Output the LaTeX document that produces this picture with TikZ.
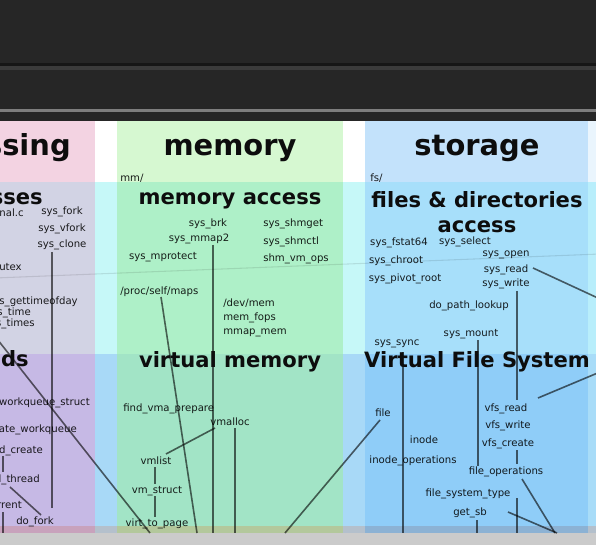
\documentclass[tikz,border=0pt]{standalone}
\usepackage{fontspec}
\setmainfont{DejaVu Sans}
\definecolor{bgdark}{HTML}{262626}
\definecolor{topl1}{HTML}{161616}
\definecolor{topl2}{HTML}{3B3B3B}
\definecolor{topl3}{HTML}{7E7E7E}
\definecolor{pinkH}{HTML}{F3D3E2}
\definecolor{greenH}{HTML}{D6F8D1}
\definecolor{blueH}{HTML}{C3E2FB}
\definecolor{edgeH}{HTML}{EAF5FD}
\definecolor{procA}{HTML}{D2D3E4}
\definecolor{gapA}{HTML}{C6F8F8}
\definecolor{memA}{HTML}{AEF0C8}
\definecolor{stoA}{HTML}{A7DFFA}
\definecolor{edgeA}{HTML}{B8EEFB}
\definecolor{procB}{HTML}{C6B9E5}
\definecolor{gapB}{HTML}{A8D9F7}
\definecolor{memB}{HTML}{A2E4C6}
\definecolor{stoB}{HTML}{8FCDF8}
\definecolor{edgeB}{HTML}{A8DCF8}
\definecolor{procS}{HTML}{C8A2BC}
\definecolor{gapS}{HTML}{B4C0CC}
\definecolor{memS}{HTML}{B3C89C}
\definecolor{stoS}{HTML}{8CB2D4}
\definecolor{botgray}{HTML}{CBCBCB}
\begin{document}
\begin{tikzpicture}[x=0.75pt,y=-0.75pt,
  lbl/.style={font=\fontsize{7.6}{9}\selectfont,inner sep=0pt,text=black,text opacity=0.88,anchor=mid},
  ttl/.style={font=\fontsize{15.8}{19}\selectfont\bfseries,inner sep=0pt,text=black!95,anchor=mid},
  hdr/.style={font=\fontsize{21.7}{26}\selectfont\bfseries,inner sep=0pt,text=black!95,anchor=mid},
  lnk/.style={draw=black,draw opacity=0.6,line width=1.2pt},
  faint/.style={draw=black,draw opacity=0.1,line width=0.8pt}]
\useasboundingbox (0,0) rectangle (596,545);
\clip (0,0) rectangle (596,545);
% top dark window area
\fill[bgdark] (0,0) rectangle (596,121);
\fill[topl1] (0,63) rectangle (596,66);
\fill[topl2] (0,66.5) rectangle (596,70);
\fill[topl3] (0,109) rectangle (596,112);
% header row
\fill[pinkH] (0,121) rectangle (95,182);
\fill[white] (95,121) rectangle (117,182);
\fill[greenH] (117,121) rectangle (343,182);
\fill[white] (343,121) rectangle (365,182);
\fill[blueH] (365,121) rectangle (588,182);
\fill[edgeH] (588,121) rectangle (596,182);
% row 2
\fill[procA] (0,182) rectangle (95,354);
\fill[gapA] (95,182) rectangle (117,354);
\fill[memA] (117,182) rectangle (343,354);
\fill[gapA] (343,182) rectangle (365,354);
\fill[stoA] (365,182) rectangle (588,354);
\fill[edgeA] (588,182) rectangle (596,354);
% row 3
\fill[procB] (0,354) rectangle (95,526);
\fill[gapB] (95,354) rectangle (117,526);
\fill[memB] (117,354) rectangle (343,526);
\fill[gapB] (343,354) rectangle (365,526);
\fill[stoB] (365,354) rectangle (588,526);
\fill[edgeB] (588,354) rectangle (596,526);
% bottom strip
\fill[procS] (0,526) rectangle (95,533);
\fill[gapS] (95,526) rectangle (117,533);
\fill[memS] (117,526) rectangle (343,533);
\fill[gapS] (343,526) rectangle (365,533);
\fill[stoS] (365,526) rectangle (588,533);
\fill[gapS] (588,526) rectangle (596,533);
\fill[botgray] (0,533) rectangle (596,545);

% coordinates for connector ends
\coordinate (fa) at (-5,278);   \coordinate (fb) at (600,254);
\coordinate (c1a) at (52,252);  \coordinate (c1b) at (52,508);
\coordinate (c2a) at (-10,330); \coordinate (c2b) at (150,533);
\coordinate (c3a) at (3,456);   \coordinate (c3b) at (3,472);
\coordinate (c4a) at (10,487);  \coordinate (c4b) at (41,515);
\coordinate (c5a) at (3,512);   \coordinate (c5b) at (3,533);
\coordinate (c6a) at (213,245); \coordinate (c6b) at (213,533);
\coordinate (c7a) at (161,297); \coordinate (c7b) at (197,533);
\coordinate (c8a) at (235,428); \coordinate (c8b) at (235,533);
\coordinate (c9a) at (215,428); \coordinate (c9b) at (166,454);
\coordinate (c10a) at (155,467); \coordinate (c10b) at (155,484);
\coordinate (c11a) at (155,496); \coordinate (c11b) at (155,517);
\coordinate (c12a) at (380,420); \coordinate (c12b) at (285,533);
\coordinate (c13a) at (403,352); \coordinate (c13b) at (403,533);
\coordinate (c14a) at (478,340); \coordinate (c14b) at (478,466);
\coordinate (c15a) at (477,520); \coordinate (c15b) at (477,533);
\coordinate (c16a) at (517,291); \coordinate (c16b) at (517,400);
\coordinate (c17a) at (517,450); \coordinate (c17b) at (517,464);
\coordinate (c18a) at (517,498); \coordinate (c18b) at (517,533);
\coordinate (c19a) at (522,479); \coordinate (c19b) at (555,533);
\coordinate (c20a) at (508,512); \coordinate (c20b) at (557,533);
\coordinate (c21a) at (533,268); \coordinate (c21b) at (600,299);
\coordinate (c22a) at (538,398); \coordinate (c22b) at (600,372);

\draw[faint] (fa) -- (fb);
\foreach \i in {1,...,22} { \draw[lnk] (c\i a) -- (c\i b); }

% processing column
\node[hdr,anchor=mid east] (hproc) at (71,152) {processing};
\node[ttl,anchor=mid east] (tproc) at (43,201) {processes};
\node[lbl,anchor=mid east] (signal) at (24,213) {signal.c};
\node[lbl] (sfork) at (62,211) {sys\_fork};
\node[lbl] (svfork) at (62,228) {sys\_vfork};
\node[lbl] (sclone) at (62,244) {sys\_clone};
\node[lbl,anchor=mid east] (sfutex) at (22,267) {sys\_futex};
\node[lbl,anchor=mid east] (sgtod) at (78,301) {sys\_gettimeofday};
\node[lbl,anchor=mid east] (stime) at (31,312) {sys\_time};
\node[lbl,anchor=mid east] (stimes) at (35,323) {sys\_times};
\node[ttl,anchor=mid east] (tthr) at (29,363) {threads};
\node[lbl,anchor=mid east] (cwqs) at (90,402) {cpu\_workqueue\_struct};
\node[lbl,anchor=mid east] (crwq) at (77,429) {create\_workqueue};
\node[lbl,anchor=mid east] (kcreate) at (43,450) {kthread\_create};
\node[lbl,anchor=mid east] (kthr) at (40,479) {kernel\_thread};
\node[lbl,anchor=mid east] (curr) at (22,505) {current};
\node[lbl] (dofork) at (35,521) {do\_fork};

% memory column
\node[hdr] (hmem) at (230,152) {memory};
\node[lbl,anchor=mid west] (mmdir) at (120,178) {mm/};
\node[ttl] (tmacc) at (230,201) {memory access};
\node[lbl] (sbrk) at (208,223) {sys\_brk};
\node[lbl] (smmap) at (199,238) {sys\_mmap2};
\node[lbl] (smprot) at (163,256) {sys\_mprotect};
\node[lbl,anchor=mid west] (sshmget) at (263,223) {sys\_shmget};
\node[lbl,anchor=mid west] (sshmctl) at (263,241) {sys\_shmctl};
\node[lbl,anchor=mid west] (shmops) at (263,258) {shm\_vm\_ops};
\node[lbl,anchor=mid west] (procmaps) at (120,291) {/proc/self/maps};
\node[lbl,anchor=mid west] (devmem) at (223,303) {/dev/mem};
\node[lbl,anchor=mid west] (memfops) at (223,317) {mem\_fops};
\node[lbl,anchor=mid west] (mmapmem) at (223,331) {mmap\_mem};
\node[ttl] (tvm) at (230,364) {virtual memory};
\node[lbl,anchor=mid west] (fvp) at (123,408) {find\_vma\_prepare};
\node[lbl] (vmalloc) at (230,422) {vmalloc};
\node[lbl] (vmlist) at (156,461) {vmlist};
\node[lbl] (vmstruct) at (157,490) {vm\_struct};
\node[lbl] (v2p) at (157,523) {virt\_to\_page};

% storage column
\node[hdr] (hsto) at (477,152) {storage};
\node[lbl,anchor=mid west] (fsdir) at (370,178) {fs/};
\node[ttl] (tfda) at (477,204) {files \& directories};
\node[ttl] (tfdb) at (477,229) {access};
\node[lbl] (sfstat) at (399,242) {sys\_fstat64};
\node[lbl] (sselect) at (465,241) {sys\_select};
\node[lbl] (sopen) at (506,253) {sys\_open};
\node[lbl] (schroot) at (396,260) {sys\_chroot};
\node[lbl] (sread) at (506,269) {sys\_read};
\node[lbl] (spivot) at (405,278) {sys\_pivot\_root};
\node[lbl] (swrite) at (506,283) {sys\_write};
\node[lbl] (dpl) at (469,305) {do\_path\_lookup};
\node[lbl] (smount) at (471,333) {sys\_mount};
\node[lbl] (ssync) at (397,342) {sys\_sync};
\node[ttl] (tvfs) at (477,364) {Virtual File System};
\node[lbl] (file) at (383,413) {file};
\node[lbl] (vread) at (506,408) {vfs\_read};
\node[lbl] (vwrite) at (508,425) {vfs\_write};
\node[lbl] (inode) at (424,440) {inode};
\node[lbl] (vcreate) at (508,443) {vfs\_create};
\node[lbl] (iops) at (413,460) {inode\_operations};
\node[lbl] (fops) at (506,471) {file\_operations};
\node[lbl] (fst) at (468,493) {file\_system\_type};
\node[lbl] (getsb) at (470,512) {get\_sb};
\end{tikzpicture}
\end{document}
